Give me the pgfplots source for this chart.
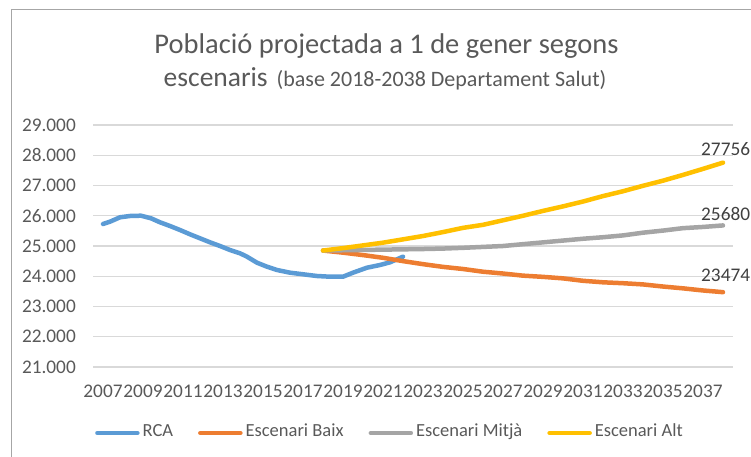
\documentclass[border=0pt]{standalone}
\usepackage{pgfplots}
\pgfplotsset{compat=1.18}
\usepackage{fontspec}
\setmainfont{Carlito}
\definecolor{rca}{HTML}{5B9BD5}
\definecolor{baix}{HTML}{ED7D31}
\definecolor{mitja}{HTML}{A5A5A5}
\definecolor{alt}{HTML}{FFC000}
\definecolor{txt}{HTML}{595959}
\definecolor{lab}{HTML}{404040}
\definecolor{gridc}{HTML}{D9D9D9}
\begin{document}
\begin{tikzpicture}
\path[use as bounding box] (0,0) rectangle (751bp,457bp);
\draw[color=black!35, line width=1bp] (11.5bp,-5bp) -- (11.5bp,447bp) -- (760bp,447bp);
\begin{axis}[
  at={(93bp,90bp)}, anchor=south west,
  scale only axis, width=640bp, height=242bp,
  xmin=2006.5, xmax=2038.5, ymin=21000, ymax=29000,
  xtick={2007,2009,...,2037}, ytick={21000,22000,...,29000},
  ymajorgrids, grid style={color=gridc, line width=1.3bp},
  axis line style={draw=none}, major tick length=0pt,
  scaled y ticks=false, clip mode=individual,
  /pgf/number format/assume math mode=true,
  tick label style={font=\fontsize{19.3bp}{22bp}\selectfont, text=txt},
  yticklabel style={anchor=east, inner sep=0pt, xshift=-17bp, /pgf/number format/1000 sep={.}},
  xticklabel style={anchor=north, inner sep=0pt, yshift=-18bp, /pgf/number format/1000 sep={}},
  legend columns=4,
  legend style={at={(axis description cs:0.0031,-0.2727)}, anchor=west, draw=none, fill=none,
    inner sep=0pt, font=\fontsize{18.5bp}{22bp}\selectfont, text=txt,
    nodes={inner sep=0pt, text height=0.62em, text depth=0pt},
    /tikz/every odd column/.append style={column sep=3bp},
    /tikz/every even column/.append style={column sep=25bp}},
  legend image code/.code={\draw[#1, line width=4.5bp, line cap=round] (0bp,0bp) -- (40bp,0bp);},
  every axis plot/.append style={line width=4.5bp, line join=round, line cap=round},
]
\addplot[color=rca] coordinates {
(2007.0,25727)(2007.35,25804)(2007.85,25949)(2008.35,25992)(2008.9,26002)
(2009.4,25916)(2009.85,25784)(2010.35,25661)(2010.85,25529)(2011.35,25387)
(2011.85,25255)(2012.35,25122)(2012.85,25000)(2013.35,24868)(2013.85,24759)
(2014.2,24647)(2014.7,24448)(2015.2,24316)(2015.7,24207)(2016.35,24118)
(2017.0,24065)(2017.7,24008)(2018.35,23985)(2019.0,23985)(2019.5,24118)
(2020.2,24283)(2020.85,24372)(2021.35,24461)(2022.0,24647)};
\addlegendentry{RCA}
\addplot[color=baix] coordinates {
(2018,24850)(2019,24780)(2020,24700)(2021,24610)(2022,24500)(2023,24400)
(2024,24310)(2025,24240)(2026,24150)(2027,24090)(2028,24020)(2029,23980)
(2030,23930)(2031,23850)(2032,23800)(2033,23770)(2034,23730)(2035,23660)
(2036,23600)(2037,23530)(2038,23474)};
\addlegendentry{Escenari Baix}
\addplot[color=mitja] coordinates {
(2018,24850)(2019,24860)(2020,24870)(2021,24880)(2022,24890)(2023,24900)
(2024,24915)(2025,24940)(2026,24970)(2027,25000)(2028,25060)(2029,25120)
(2030,25180)(2031,25240)(2032,25290)(2033,25350)(2034,25440)(2035,25510)
(2036,25590)(2037,25630)(2038,25680)};
\addlegendentry{Escenari Mitjà}
\addplot[color=alt] coordinates {
(2018,24850)(2019,24930)(2020,25020)(2021,25110)(2022,25220)(2023,25330)
(2024,25460)(2025,25600)(2026,25700)(2027,25850)(2028,26000)(2029,26160)
(2030,26310)(2031,26470)(2032,26650)(2033,26810)(2034,26990)(2035,27160)
(2036,27350)(2037,27550)(2038,27756)};
\addlegendentry{Escenari Alt}
\node[anchor=base west, inner sep=0pt, text=lab, font=\fontsize{19.3bp}{22bp}\selectfont, xshift=-22bp, yshift=7bp] at (axis cs:2038,27756) {27756};
\node[anchor=base west, inner sep=0pt, text=lab, font=\fontsize{19.3bp}{22bp}\selectfont, xshift=-22bp, yshift=5bp] at (axis cs:2038,25680) {25680};
\node[anchor=base west, inner sep=0pt, text=lab, font=\fontsize{19.3bp}{22bp}\selectfont, xshift=-22bp, yshift=11bp] at (axis cs:2038,23474) {23474};
\end{axis}
\node[anchor=base, inner sep=0pt, text=txt, font=\fontsize{28.5bp}{32bp}\selectfont] at (386.5bp,403bp) {Població projectada a 1 de gener segons};
\node[anchor=base, inner sep=0pt, text=txt] at (385bp,370bp) {\fontsize{27.5bp}{32bp}\selectfont escenaris\hspace{9bp}\fontsize{22bp}{24bp}\selectfont (base 2018-2038 Departament Salut)};
\end{tikzpicture}
\end{document}
